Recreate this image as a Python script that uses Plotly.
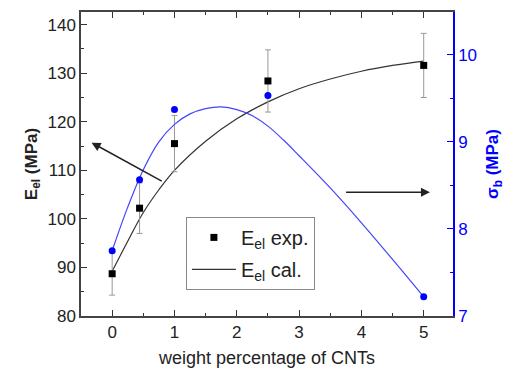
import plotly.graph_objects as go

# Experimental E_el data
x_exp = [0, 0.44, 1, 2.5, 5]
e_exp = [88.7, 102.2, 115.5, 128.4, 131.6]
e_err = [4.4, 5.2, 5.8, 6.4, 6.6]

# Calculated E_el curve
x_cal = [0, 0.25, 0.5, 0.75, 1.0, 1.5, 2.0, 2.5, 3.0, 3.5, 4.0, 4.5, 5.0]
e_cal = [89.2, 95.4, 101.3, 106.0, 110.0, 116.0, 120.6, 124.1, 126.8, 128.8, 130.4, 131.6, 132.5]

# sigma_b points
s_pts = [7.75, 8.565, 9.37, 9.53, 7.22]

# sigma_b fitted curve
x_sfit = [0, 0.25, 0.5, 0.75, 1.0, 1.25, 1.5, 1.75, 2.0, 2.25, 2.5, 2.75, 3.0, 3.5, 4.0, 4.5, 5.0]
s_fit = [7.75, 8.25, 8.68, 9.0, 9.2, 9.32, 9.38, 9.40, 9.37, 9.30, 9.18, 9.02, 8.84, 8.47, 8.07, 7.65, 7.22]

FONT = "Liberation Sans, Arial, sans-serif"
BLUE = "#0000ff"

fig = go.Figure()

fig.add_trace(go.Scatter(
    x=x_cal, y=e_cal, mode="lines", line=dict(color="#333333", width=1.2, shape="spline"),
    name="E<sub>el</sub> cal.", showlegend=True, legendgroup="b", legendrank=2))

fig.add_trace(go.Scatter(
    x=x_sfit, y=s_fit, mode="lines", line=dict(color="#4444ff", width=1.2, shape="spline"),
    yaxis="y2", showlegend=False))

fig.add_trace(go.Scatter(
    x=x_exp, y=e_exp, mode="markers",
    marker=dict(symbol="square", size=7, color="black"),
    error_y=dict(type="data", array=e_err, color="#999999", thickness=1, width=3),
    name="E<sub>el</sub> exp.", legendgroup="a", legendrank=1))

fig.add_trace(go.Scatter(
    x=x_exp, y=s_pts, mode="markers", marker=dict(symbol="circle", size=7, color=BLUE),
    yaxis="y2", showlegend=False))

# arrows
fig.add_annotation(x=-0.33, y=115.7, ax=0.82, ay=107.6, xref="x", yref="y", axref="x", ayref="y",
                   showarrow=True, arrowhead=2, arrowsize=1.2, arrowwidth=1.5, arrowcolor="#222222", text="")
fig.add_annotation(x=5.1, y=105.5, ax=3.73, ay=105.5, xref="x", yref="y", axref="x", ayref="y",
                   showarrow=True, arrowhead=2, arrowsize=1.2, arrowwidth=1.5, arrowcolor="#222222", text="")

fig.update_layout(
    width=510, height=375,
    margin=dict(l=81, r=57, t=10, b=58),
    paper_bgcolor="white", plot_bgcolor="white",
    font=dict(family=FONT, size=17, color="#222222"),
    showlegend=True,
    legend=dict(x=0.282, y=0.326, xanchor="left", yanchor="top",
                bordercolor="#888888", borderwidth=1, bgcolor="white",
                font=dict(size=20, family=FONT), traceorder="grouped", tracegroupgap=3,
                itemwidth=44),
    xaxis=dict(range=[-0.5, 5.47], dtick=1, tick0=0, ticks="inside", ticklen=6, tickwidth=1.2,
               tickcolor="#333333",
               minor=dict(dtick=0.5, ticks="inside", ticklen=3, tickcolor="#333333"),
               showline=True, linecolor="#444444", linewidth=1.5, mirror="ticks",
               showgrid=False, zeroline=False,
               title=dict(text="weight percentage of CNTs", font=dict(size=18), standoff=10),
               tickfont=dict(size=17)),
    yaxis=dict(range=[80, 142.6], dtick=10, ticks="inside", ticklen=6, tickwidth=1.2,
               tickcolor="#333333",
               minor=dict(dtick=5, ticks="inside", ticklen=3, tickcolor="#333333"),
               showline=True, linecolor="#444444", linewidth=1.5,
               showgrid=False, zeroline=False,
               title=dict(text="<b>E<sub>el</sub> (MPa)</b>", font=dict(size=17), standoff=6),
               tickfont=dict(size=17)),
    yaxis2=dict(range=[7, 10.49], dtick=1, overlaying="y", side="right", ticks="inside",
                ticklen=6, tickwidth=1.2, tickcolor=BLUE,
                minor=dict(dtick=0.5, ticks="inside", ticklen=3, tickcolor=BLUE),
                showline=True, linecolor=BLUE, linewidth=1.5,
                showgrid=False, zeroline=False,
                tickfont=dict(size=17, color=BLUE),
                title=dict(text="<b>σ<sub>b</sub> (MPa)</b>", font=dict(size=17, color=BLUE), standoff=10)),
)

fig.write_html("out.html")
